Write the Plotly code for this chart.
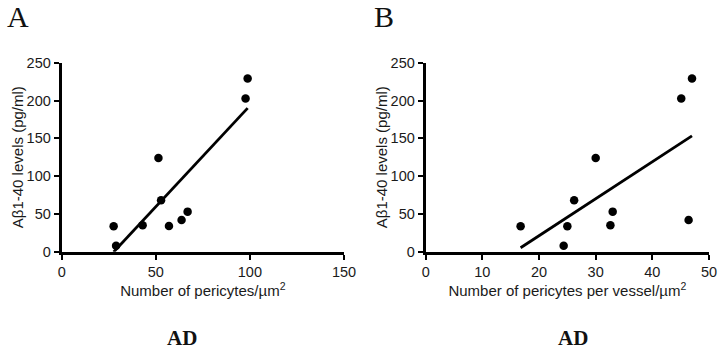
import numpy as np
import plotly.graph_objects as go

# Data
abeta_levels = [33.6, 8, 35, 124, 68, 34, 42, 53, 202.7, 229]  # pg/ml (panel A order)
pericytes_area = [27.6, 28.9, 43.0, 51.4, 52.8, 57.0, 63.7, 66.9, 97.7, 98.8]

abeta_levels_b = [33.6, 8, 33.6, 68, 124, 35, 53, 202.7, 42, 229]
pericytes_vessel = [16.75, 24.35, 25.0, 26.2, 30.0, 32.6, 33.0, 45.1, 46.4, 47.0]

x_ticks_a = [0, 50, 100, 150]
x_ticks_b = [0, 10, 20, 30, 40, 50]
y_ticks = [0, 50, 100, 150, 200, 250]

W, H = 719, 349
fig = go.Figure()

def add_panel(xs, ys, xa, ya):
    fig.add_trace(go.Scatter(x=xs, y=ys, mode="markers", xaxis=xa, yaxis=ya,
                             marker=dict(color="black", size=8.5), showlegend=False,
                             cliponaxis=False))
    k, b = np.polyfit(xs, ys, 1)
    lx = [min(xs), max(xs)]
    fig.add_trace(go.Scatter(x=lx, y=[k * v + b for v in lx], mode="lines",
                             xaxis=xa, yaxis=ya, line=dict(color="black", width=2.8),
                             showlegend=False))

add_panel(pericytes_area, abeta_levels, "x", "y")
add_panel(pericytes_vessel, abeta_levels_b, "x2", "y2")

tick_font = dict(family="Liberation Sans, Arial, sans-serif", size=14.5, color="#1a1a1a")
title_font = dict(family="Liberation Sans, Arial, sans-serif", size=15, color="#1a1a1a")

axis_common = dict(showgrid=False, zeroline=False, showline=True, linecolor="black",
                   linewidth=3, ticks="outside", ticklen=5, tickwidth=2,
                   tickcolor="black", tickfont=tick_font, automargin=False)

ydom = [(349 - 251.7) / H, (349 - 62.7) / H]
fig.update_layout(
    width=W, height=H,
    margin=dict(l=0, r=0, t=0, b=0, autoexpand=False),
    paper_bgcolor="white", plot_bgcolor="white",
    xaxis=dict(domain=[61.7 / W, 344 / W], range=[0, 150], tickvals=x_ticks_a,
               title=dict(text="Number of pericytes/µm<sup>2</sup>", font=title_font, standoff=7),
               anchor="y", **axis_common),
    yaxis=dict(domain=ydom, range=[0, 250], tickvals=y_ticks,
               title=dict(text="Aβ1-40 levels (pg/ml)", font=title_font, standoff=0),
               anchor="x", **axis_common),
    xaxis2=dict(domain=[425.7 / W, 709 / W], range=[0, 50], tickvals=x_ticks_b,
                title=dict(text="Number of pericytes per vessel/µm<sup>2</sup>", font=title_font, standoff=7),
                anchor="y2", **axis_common),
    yaxis2=dict(domain=ydom, range=[0, 250], tickvals=y_ticks,
                title=dict(text="Aβ1-40 levels (pg/ml)", font=title_font, standoff=0),
                anchor="x2", **axis_common),
)

serif = "Liberation Serif, Times New Roman, serif"
for txt, x in [("A", 18), ("B", 384)]:
    fig.add_annotation(text=txt, x=x / W, y=1 - 16 / H, xref="paper", yref="paper",
                       showarrow=False, font=dict(family=serif, size=30, color="#111"),
                       xanchor="center", yanchor="middle")
for x in [181.5, 572.5]:
    fig.add_annotation(text="<b>AD</b>", x=x / W, y=1 - 337.5 / H, xref="paper", yref="paper",
                       showarrow=False, font=dict(family=serif, size=21, color="#111"),
                       xanchor="center", yanchor="middle")

fig.write_html("out.html", config={"displayModeBar": False},
               post_script="document.body.style.margin='0';document.body.style.overflow='hidden';")
